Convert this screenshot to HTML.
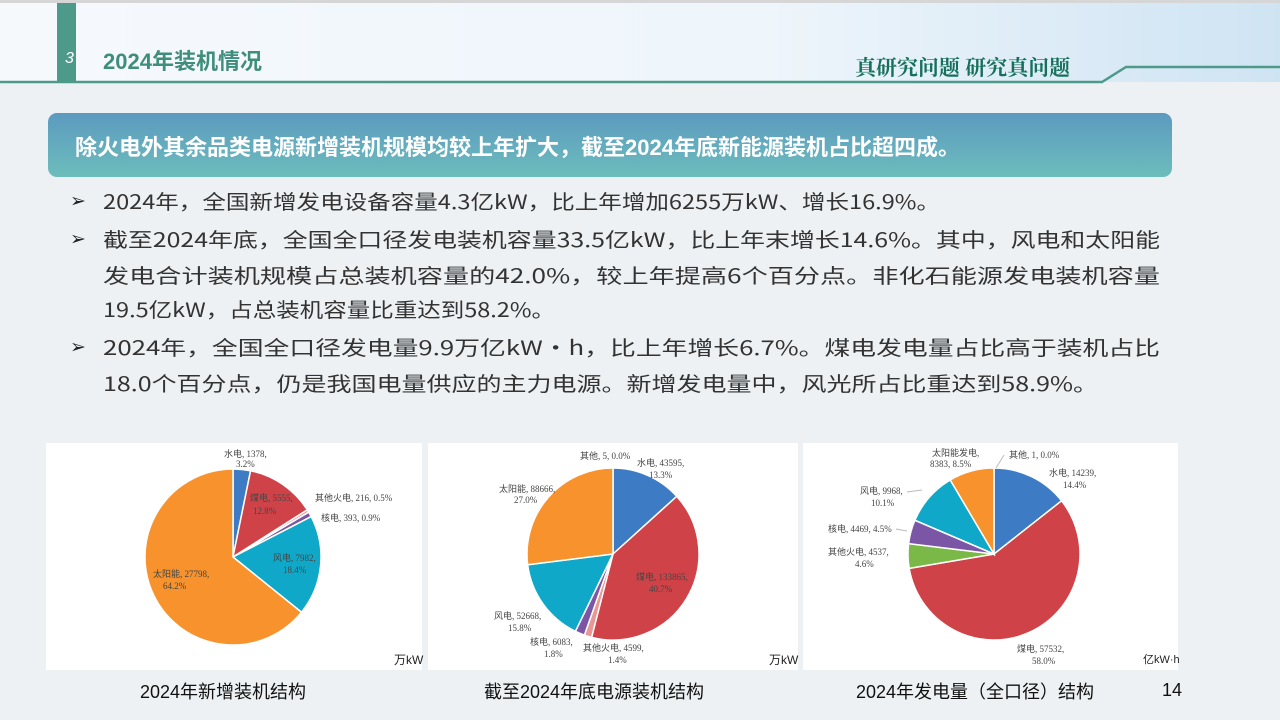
<!DOCTYPE html>
<html><head><meta charset="utf-8"><style>
body{margin:0;width:1280px;height:720px;overflow:hidden;background:#edf1f4;font-family:"Liberation Sans","Noto Sans CJK SC",sans-serif;position:relative}
.abs{position:absolute}
.hdr{left:0;top:0;width:1280px;height:82px;background:linear-gradient(90deg,#f6f9fc,#eef5fb 60%,#cfe4f3);border-top:3px solid #d6d6d6;box-sizing:border-box}
.bl{left:70px;color:#222;font-size:19px;white-space:nowrap}
.tx{left:103px;color:#333;font-size:20px;white-space:nowrap;font-family:"Noto Sans CJK SC",sans-serif;transform-origin:0 50%;line-height:26px}
.panel{background:#fff;top:443px;height:227px}
.cap{top:678px;font-size:18px;color:#111;white-space:nowrap}
</style></head><body>
<div class="abs hdr"></div>
<div class="abs" style="left:57px;top:3px;width:19px;height:79px;background:#4e9a8a"></div>
<div class="abs" style="left:65px;top:50px;color:#fff;font-style:italic;font-size:16px">3</div>
<div class="abs" style="left:103px;top:44px;color:#3f8d7b;font-size:22px;font-weight:bold">2024年装机情况</div>
<svg class="abs" style="left:0;top:0" width="1280" height="90"><polyline points="0,82 1102,82 1126,67 1280,67" fill="none" stroke="#4e9a8a" stroke-width="2.5"/></svg>
<div class="abs" style="left:855px;top:52px;color:#17705c;font-size:21px;font-family:'Noto Serif CJK SC',serif;font-weight:bold;white-space:nowrap">真研究问题 研究真问题</div>
<div class="abs" style="left:48px;top:113px;width:1124px;height:64px;border-radius:9px;background:linear-gradient(180deg,#5c9abf,#6cbdbc)"></div>
<div class="abs" style="left:75px;top:130px;color:#fff;font-size:22px;font-weight:bold;white-space:nowrap">除火电外其余品类电源新增装机规模均较上年扩大，截至2024年底新能源装机占比超四成。</div>
<div class="abs bl" style="top:190px">➢</div><div class="abs tx" data-w="837" style="top:188px">2024年，全国新增发电设备容量4.3亿kW，比上年增加6255万kW、增长16.9%。</div>
<div class="abs bl" style="top:228px">➢</div><div class="abs tx" data-w="1057" style="top:226px">截至2024年底，全国全口径发电装机容量33.5亿kW，比上年末增长14.6%。其中，风电和太阳能</div>
<div class="abs tx" data-w="1057" style="top:262px">发电合计装机规模占总装机容量的42.0%，较上年提高6个百分点。非化石能源发电装机容量</div>
<div class="abs tx" data-w="452" style="top:296px">19.5亿kW，占总装机容量比重达到58.2%。</div>
<div class="abs bl" style="top:336px">➢</div><div class="abs tx" data-w="1057" style="top:334px">2024年，全国全口径发电量9.9万亿kW·h，比上年增长6.7%。煤电发电量占比高于装机占比</div>
<div class="abs tx" data-w="995" style="top:370px">18.0个百分点，仍是我国电量供应的主力电源。新增发电量中，风光所占比重达到58.9%。</div>
<div class="abs panel" style="left:46px;width:376px"></div>
<div class="abs panel" style="left:428px;width:370px"></div>
<div class="abs panel" style="left:803px;width:375px"></div>
<svg class="abs" style="left:0;top:0" width="1280" height="720" id="s" font-family="Liberation Serif,Noto Sans CJK SC,serif" font-size="9" fill="#444"></svg>
<div class="abs cap" style="left:140px">2024年新增装机结构</div>
<div class="abs cap" style="left:484px">截至2024年底电源装机结构</div>
<div class="abs cap" style="left:856px">2024年发电量（全口径）结构</div>
<div class="abs" style="left:1162px;top:680px;font-size:18px;color:#111">14</div>
<div class="abs" style="left:394px;top:651px;font-size:12px;color:#222">万kW</div>
<div class="abs" style="left:769px;top:651px;font-size:12px;color:#222">万kW</div>
<div class="abs" style="left:1143px;top:651px;font-size:11px;color:#222">亿kW·h</div>
<script>
document.querySelectorAll('.tx').forEach(e=>{const w=e.getBoundingClientRect().width;e.style.transform='scaleX('+(e.dataset.w/w)+')';});
const B='#3d7cc4',R='#cf4348',O='#f7922c',C='#10a8c8',P='#7c56a6',G='#7ab948',K='#e89894';
const pies=[[233,557,88,[[3.2,B],[12.8,R],[0.5,K],[0.9,P],[18.4,C],[64.2,O]]],
[613,554,86,[[13.3,B],[40.7,R],[1.4,K],[1.8,P],[15.8,C],[27.0,O]]],
[994,554,86,[[14.4,B],[58.0,R],[4.6,G],[4.5,P],[10.1,C],[8.5,O]]]];
let h='';
for(const [cx,cy,r,sl] of pies){let tot=sl.reduce((a,b)=>a+b[0],0),a=0;
for(const [v,c] of sl){let a0=a/tot*2*Math.PI,a1=(a+v)/tot*2*Math.PI;a+=v;
let x0=cx+r*Math.sin(a0),y0=cy-r*Math.cos(a0),x1=cx+r*Math.sin(a1),y1=cy-r*Math.cos(a1);
h+=`<path d="M${cx},${cy}L${x0},${y0}A${r},${r} 0 ${a1-a0>Math.PI?1:0} 1 ${x1},${y1}Z" fill="${c}" stroke="#fff" stroke-width="1.5"/>`;}}
const L=[[224,457,'水电, 1378,'],[236,467,'3.2%'],[250,501,'煤电, 5555,'],[253,514,'12.8%'],[315,501,'其他火电, 216, 0.5%'],[321,521,'核电, 393, 0.9%'],[273,561,'风电, 7982,'],[283,573,'18.4%'],[153,577,'太阳能, 27798,'],[163,589,'64.2%'],
[580,459,'其他, 5, 0.0%'],[637,466,'水电, 43595,'],[649,478,'13.3%'],[499,492,'太阳能, 88666,'],[514,503,'27.0%'],[636,580,'煤电, 133865,'],[649,592,'40.7%'],[494,619,'风电, 52668,'],[508,631,'15.8%'],[530,645,'核电, 6083,'],[544,657,'1.8%'],[583,651,'其他火电, 4599,'],[608,663,'1.4%'],
[932,456,'太阳能发电,'],[930,467,'8383, 8.5%'],[1009,458,'其他, 1, 0.0%'],[1049,476,'水电, 14239,'],[1063,488,'14.4%'],[860,494,'风电, 9968,'],[871,506,'10.1%'],[828,532,'核电, 4469, 4.5%'],[828,555,'其他火电, 4537,'],[855,567,'4.6%'],[1017,652,'煤电, 57532,'],[1032,664,'58.0%']];
for(const [x,y,t] of L)h+=`<text x="${x}" y="${y}">${t}</text>`;
h+='<g stroke="#bbb" fill="none"><line x1="1004" y1="455" x2="996" y2="468"/><line x1="907" y1="492" x2="922" y2="490"/><line x1="896" y1="529" x2="907" y2="531"/></g>';
document.getElementById('s').innerHTML=h;
</script>
</body></html>
